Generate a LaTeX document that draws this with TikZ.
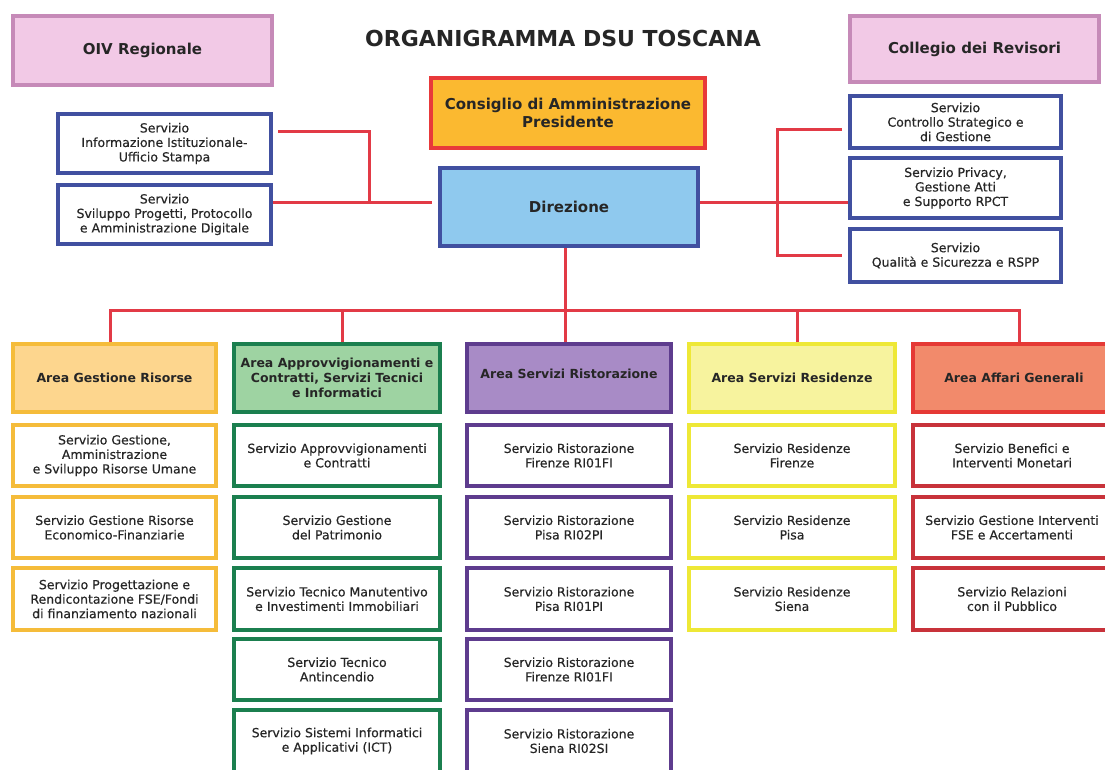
\documentclass[tikz,border=0pt]{standalone}
\usepackage{fontspec}
\setmainfont{DejaVu Sans}
\newfontfamily\svcfont[FakeBold=0.4]{DejaVu Sans}
\definecolor{conred}{HTML}{E23A46}
\definecolor{txt}{HTML}{262626}
\definecolor{pinkfill}{HTML}{F2C9E6}
\definecolor{pinkline}{HTML}{C68AB8}
\definecolor{orgfill}{HTML}{FBB930}
\definecolor{orgline}{HTML}{E8393A}
\definecolor{dirfill}{HTML}{8FC9EE}
\definecolor{blueline}{HTML}{4150A0}
\definecolor{aonefill}{HTML}{FDD68E}
\definecolor{aoneline}{HTML}{F5BC3A}
\definecolor{atwofill}{HTML}{9ED3A2}
\definecolor{atwoline}{HTML}{1B7F4F}
\definecolor{athreefill}{HTML}{A88BC6}
\definecolor{athreeline}{HTML}{5E3C8E}
\definecolor{afourfill}{HTML}{F7F39E}
\definecolor{afourline}{HTML}{EEE836}
\definecolor{afivefill}{HTML}{F28A6B}
\definecolor{afiveline}{HTML}{E53935}
\definecolor{sfiveline}{HTML}{C8323A}
\tikzset{
  box/.style={draw, line width=4pt, inner sep=1pt, align=center, text=txt,
    font=\svcfont\fontsize{12.5}{14.5}\selectfont},
  bigbox/.style={box, font=\bfseries\fontsize{15}{18}\selectfont},
  areabox/.style={box, font=\bfseries\fontsize{12.5}{15}\selectfont},
  pinkbox/.style={bigbox, draw=pinkline, fill=pinkfill, line width=3.5pt},
  bluesvc/.style={box, draw=blueline, fill=white},
  conn/.style={draw=conred, line width=3pt},
}
\newcommand{\orgbox}[7]{\node[#6, minimum width={(#4-#2-4)*1pt}, minimum height={(#5-#3-4)*1pt}] (#1) at ({(#2+#4)/2},{(#3+#5)/2}) {#7};}
\begin{document}
\begin{tikzpicture}[x=1pt,y=-1pt]
\path[use as bounding box] (0,0) rectangle (1105,769);
\clip (0,0) rectangle (1105,769);
\fill[white] (0,0) rectangle (1105,769);

\node[text=txt, font=\bfseries\fontsize{22}{26}\selectfont] (title) at (563,38) {ORGANIGRAMMA DSU TOSCANA};

\orgbox{oiv}{11}{14}{274}{87}{pinkbox}{OIV Regionale}
\orgbox{col}{848}{14}{1101}{84}{pinkbox}{Collegio dei Revisori}
\orgbox{cda}{429}{76}{707}{150}{bigbox, draw=orgline, fill=orgfill}{Consiglio di Amministrazione\\Presidente}
\orgbox{dir}{438}{166}{700}{248}{bigbox, draw=blueline, fill=dirfill}{Direzione}

\orgbox{ls1}{56}{112}{273}{175}{bluesvc}{Servizio\\Informazione Istituzionale-\\Ufficio Stampa}
\orgbox{ls2}{56}{183}{273}{246}{bluesvc}{Servizio\\Sviluppo Progetti, Protocollo\\e Amministrazione Digitale}

\orgbox{rs1}{848}{94}{1063}{150}{bluesvc}{Servizio\\Controllo Strategico e\\di Gestione}
\orgbox{rs2}{848}{156}{1063}{220}{bluesvc}{Servizio Privacy,\\Gestione Atti\\e Supporto RPCT}
\orgbox{rs3}{848}{227}{1063}{284}{bluesvc}{Servizio\\Qualità e Sicurezza e RSPP}

% areas
\orgbox{a1}{11}{342}{218}{414}{areabox, draw=aoneline, fill=aonefill}{Area Gestione Risorse}
\orgbox{a2}{232}{342}{442}{414}{areabox, draw=atwoline, fill=atwofill}{Area Approvvigionamenti e\\Contratti, Servizi Tecnici\\e Informatici}
\orgbox{a3}{465}{342}{673}{414}{areabox, draw=athreeline, fill=athreefill}{\raisebox{8pt}{Area Servizi Ristorazione}}
\orgbox{a4}{687}{342}{897}{414}{areabox, draw=afourline, fill=afourfill}{Area Servizi Residenze}
\orgbox{a5}{911}{342}{1117}{414}{areabox, draw=afiveline, fill=afivefill}{Area Affari Generali}

% column 1
\orgbox{s11}{11}{423}{218}{488}{box, draw=aoneline, fill=white}{Servizio Gestione,\\Amministrazione\\e Sviluppo Risorse Umane}
\orgbox{s12}{11}{495}{218}{560}{box, draw=aoneline, fill=white}{Servizio Gestione Risorse\\Economico-Finanziarie}
\orgbox{s13}{11}{566}{218}{632}{box, draw=aoneline, fill=white}{Servizio Progettazione e\\Rendicontazione FSE/Fondi\\di finanziamento nazionali}

% column 2
\orgbox{s21}{232}{423}{442}{488}{box, draw=atwoline, fill=white}{Servizio Approvvigionamenti\\e Contratti}
\orgbox{s22}{232}{495}{442}{560}{box, draw=atwoline, fill=white}{Servizio Gestione\\del Patrimonio}
\orgbox{s23}{232}{566}{442}{632}{box, draw=atwoline, fill=white}{Servizio Tecnico Manutentivo\\e Investimenti Immobiliari}
\orgbox{s24}{232}{637}{442}{702}{box, draw=atwoline, fill=white}{Servizio Tecnico\\Antincendio}
\orgbox{s25}{232}{708}{442}{774}{box, draw=atwoline, fill=white}{Servizio Sistemi Informatici\\e Applicativi (ICT)}

% column 3
\orgbox{s31}{465}{423}{673}{488}{box, draw=athreeline, fill=white}{Servizio Ristorazione\\Firenze RI01FI}
\orgbox{s32}{465}{495}{673}{560}{box, draw=athreeline, fill=white}{Servizio Ristorazione\\Pisa RI02PI}
\orgbox{s33}{465}{566}{673}{632}{box, draw=athreeline, fill=white}{Servizio Ristorazione\\Pisa RI01PI}
\orgbox{s34}{465}{637}{673}{702}{box, draw=athreeline, fill=white}{Servizio Ristorazione\\Firenze RI01FI}
\orgbox{s35}{465}{708}{673}{774}{box, draw=athreeline, fill=white}{Servizio Ristorazione\\Siena RI02SI}

% column 4
\orgbox{s41}{687}{423}{897}{488}{box, draw=afourline, fill=white}{Servizio Residenze\\Firenze}
\orgbox{s42}{687}{495}{897}{560}{box, draw=afourline, fill=white}{Servizio Residenze\\Pisa}
\orgbox{s43}{687}{566}{897}{632}{box, draw=afourline, fill=white}{Servizio Residenze\\Siena}

% column 5
\orgbox{s51}{911}{423}{1113}{488}{box, draw=sfiveline, fill=white}{Servizio Benefici e\\Interventi Monetari}
\orgbox{s52}{911}{495}{1113}{560}{box, draw=sfiveline, fill=white}{Servizio Gestione Interventi\\FSE e Accertamenti}
\orgbox{s53}{911}{566}{1113}{632}{box, draw=sfiveline, fill=white}{Servizio Relazioni\\con il Pubblico}

% connectors
\coordinate (lj) at (369,202);
\coordinate (rj) at (777,202);
\coordinate (bus) at (565,310);
\draw[conn] ([xshift=5pt,yshift=12.5pt]ls1.east) -| (lj);
\draw[conn] ([yshift=12.5pt]ls2.east) -- (lj) -- ([xshift=-6pt,yshift=5pt]dir.west);
\draw[conn] ([yshift=5pt]dir.east) -- (rj) -- ([yshift=-14pt]rs2.west);
\draw[conn] ([xshift=-6pt,yshift=-7pt]rs1.west) -| (rj) |- ([xshift=-6pt]rs3.west);
\draw[conn] ([xshift=-4pt]dir.south) -- (bus);
\draw[conn] ([xshift=-4.5pt]a1.north) |- (bus) -| ([xshift=5pt]a5.north);
\draw[conn] ([xshift=5pt]a2.north) -- ([xshift=5pt]a2.north |- bus);
\draw[conn] ([xshift=-4pt]a3.north) -- ([xshift=-4pt]a3.north |- bus);
\draw[conn] ([xshift=5pt]a4.north) -- ([xshift=5pt]a4.north |- bus);
\end{tikzpicture}
\end{document}
